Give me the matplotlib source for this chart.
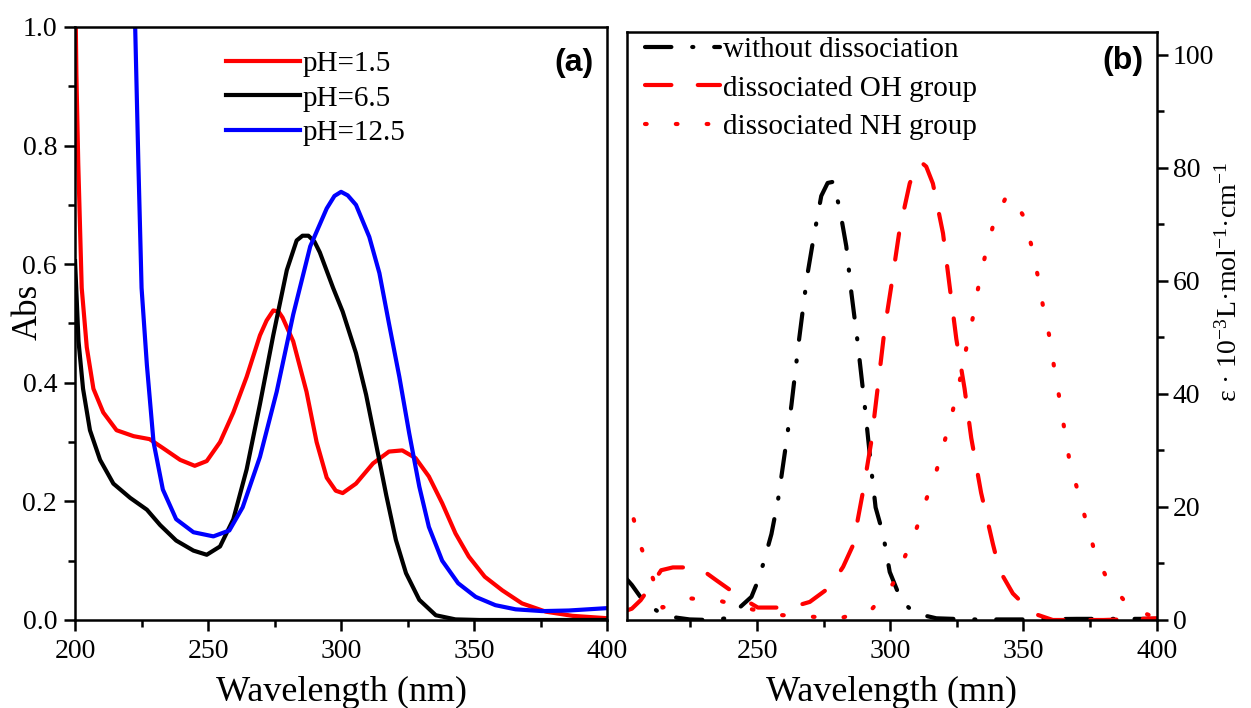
import matplotlib
matplotlib.use('Agg')
import matplotlib.pyplot as plt
from matplotlib.ticker import MultipleLocator

plt.rcParams['font.family'] = ['Liberation Serif', 'DejaVu Serif']
plt.rcParams['mathtext.fontset'] = 'custom'
plt.rcParams['mathtext.rm'] = 'Liberation Serif'
plt.rcParams['mathtext.default'] = 'regular'
plt.rcParams['lines.scale_dashes'] = False

# panel (a): absorbance spectra
wl_ph15 = [200.0, 200.5, 201.2, 202.5, 204.4, 206.9, 210.6, 215.6, 222, 228, 233, 239.5, 245,
           249.5, 254.5, 259.5, 264.5, 269.5, 272, 274.5, 276.5, 278, 282, 287, 290.8, 294.6,
           298, 300.6, 305.6, 312, 318, 323, 328, 333, 338, 343, 348, 354, 360.6, 368, 377,
           387, 400]
abs_ph15 = [1.10, 0.92, 0.77, 0.56, 0.46, 0.39, 0.35, 0.32, 0.31, 0.305, 0.29, 0.27, 0.26,
            0.268, 0.30, 0.35, 0.41, 0.48, 0.505, 0.522, 0.52, 0.51, 0.47, 0.385, 0.30, 0.24,
            0.218, 0.214, 0.23, 0.264, 0.284, 0.286, 0.273, 0.242, 0.197, 0.146, 0.107, 0.073,
            0.05, 0.028, 0.014, 0.007, 0.003]

wl_ph65 = [200, 201.3, 203, 205.6, 209.4, 214.4, 220.7, 227, 232, 238, 244.5, 249.5, 254.5,
           259.5, 264.5, 269.5, 274.5, 279.6, 283.3, 285.5, 287.7, 290, 292, 297, 300.6, 305.6,
           309.4, 313, 317, 320.6, 324.4, 329.4, 335.6, 343, 352, 400]
abs_ph65 = [0.605, 0.47, 0.39, 0.32, 0.27, 0.23, 0.206, 0.186, 0.16, 0.134, 0.117, 0.11,
            0.124, 0.17, 0.254, 0.364, 0.48, 0.59, 0.64, 0.648, 0.648, 0.638, 0.62, 0.56, 0.52,
            0.45, 0.38, 0.30, 0.21, 0.135, 0.079, 0.034, 0.008, 0.001, 0.0, 0.0]

wl_ph125 = [222.0, 222.6, 223.8, 225, 227, 229.5, 233, 238, 244.5, 252, 258, 263, 269.5,
            275.8, 282, 288.4, 294.6, 297.5, 300, 302.5, 305.6, 310.6, 314.4, 318, 321.9, 325.6,
            329.4, 333, 338, 344, 350.6, 358, 365.6, 375.6, 385.6, 400]
abs_ph125 = [1.10, 1.0, 0.77, 0.56, 0.43, 0.30, 0.22, 0.17, 0.148, 0.141, 0.151, 0.19,
             0.275, 0.385, 0.515, 0.63, 0.694, 0.715, 0.722, 0.716, 0.70, 0.646, 0.585, 0.50,
             0.41, 0.315, 0.225, 0.157, 0.10, 0.062, 0.039, 0.025, 0.018, 0.015, 0.016, 0.02]

# panel (b): molar absorptivity
wl_neutral = [200, 203, 206.5, 210.4, 214.6, 220, 224.7, 232.3, 238.5, 243, 247.9, 250.4,
              252.3, 255.4, 257.9, 260.4, 262.9, 265.8, 268.8, 271.3, 274.1, 276.5, 278.5, 281,
              283.5, 285.4, 287.6, 290.4, 292.9, 294.5, 297.3, 299.8, 304.1, 309.1, 317.3,
              330, 350, 370, 400]
eps_neutral = [7.8, 6.2, 3.9, 2.3, 0.9, 0.4, 0.1, 0.0, 0.3, 2.0, 4.1, 7.0, 9.9, 15.2, 21.3,
               29.5, 38.0, 49.7, 60.8, 67.8, 75.0, 77.3, 77.5, 72.8, 66.1, 57.9, 49.7, 38.0,
               26.6, 19.9, 15.2, 8.5, 3.5, 1.2, 0.3, 0.1, 0.1, 0.2, 0.2]

wl_oh = [200, 203, 206.3, 210.8, 214, 218.4, 227.4, 231, 234.8, 243.5, 250.3, 259.5, 264,
         269.8, 277.3, 282.3, 286, 289.8, 292.9, 295.4, 297.9, 300.4, 303.5, 307.3, 309.5,
         311.5, 313.5, 316, 319.8, 322.3, 324.8, 327.9, 330.4, 334.1, 338.5, 341, 346, 353.5,
         361, 380, 400]
eps_oh = [1.5, 2.0, 3.5, 6.5, 8.8, 9.3, 9.3, 8.3, 7.0, 4.1, 2.2, 2.2, 2.4, 3.2, 5.8, 9.4,
          13.2, 22.8, 31.6, 41.5, 51.5, 59.1, 69.0, 77.2, 80.0, 81.0, 80.2, 77.2, 68.4, 59.0,
          49.7, 40.9, 32.2, 22.5, 13.5, 8.8, 4.7, 1.2, 0.0, 0.0, 0.3]

wl_nh = [200, 203.6, 206.7, 210.8, 214.5, 225.4, 236, 247, 257.7, 269.7, 281, 292.9, 301,
         305.4, 309.8, 313.5, 317.3, 320.4, 323.5, 326, 328.5, 331, 332.9, 335.4, 338.5,
         343.5, 345.4, 349.8, 352.9, 355.4, 357.3, 359.8, 361.6, 363.5, 365.4, 367.3, 370.4,
         373.5, 376.6, 381.6, 389.8, 398.5, 400]
eps_nh = [23.0, 18.0, 12.6, 7.5, 2.2, 3.8, 3.4, 2.0, 0.9, 0.6, 0.3, 1.8, 6.4, 11.1, 16.1,
          21.3, 26.3, 31.6, 37.1, 42.1, 48.0, 53.5, 58.5, 64.0, 69.6, 74.9, 75.1, 71.6,
          66.4, 60.8, 55.6, 50.0, 44.4, 39.2, 33.6, 28.1, 22.8, 17.5, 12.3, 7.0, 2.3, 0.6, 0.5]

fig = plt.figure(figsize=(12.51, 7.08), dpi=100)
ax1 = fig.add_axes([0.0600, 0.1243, 0.4253, 0.8376])
ax2 = fig.add_axes([0.5008, 0.1243, 0.4238, 0.8305])

lw = 3.0
ax1.plot(wl_ph15, abs_ph15, color='#ff0000', lw=lw, label='pH=1.5')
ax1.plot(wl_ph65, abs_ph65, color='black', lw=lw, label='pH=6.5')
ax1.plot(wl_ph125, abs_ph125, color='#0000ff', lw=lw, label='pH=12.5')
ax1.set_xlim(200, 400)
ax1.set_ylim(0, 1.0)
ax1.xaxis.set_major_locator(MultipleLocator(50))
ax1.xaxis.set_minor_locator(MultipleLocator(25))
ax1.yaxis.set_major_locator(MultipleLocator(0.2))
ax1.yaxis.set_minor_locator(MultipleLocator(0.1))
ax1.yaxis.set_major_formatter(plt.FormatStrFormatter('%.1f'))
ax1.set_xlabel('Wavelength (nm)', fontsize=26, labelpad=8)
ax1.set_ylabel('Abs', fontsize=25)
ax1.yaxis.set_label_coords(-0.057, 0.52)
ax1.tick_params(which='both', direction='out', top=False, right=False, labelsize=20, width=1.8)
ax1.tick_params(which='major', length=8)
ax1.tick_params(which='minor', length=5)
ax1.tick_params(axis='x', pad=6)
ax1.tick_params(axis='y', pad=5)
leg1 = ax1.legend(loc='upper left', bbox_to_anchor=(0.262, 0.98), frameon=False, fontsize=21,
                  handlelength=2.55, handletextpad=0.08, labelspacing=0.28, borderaxespad=0)
ax1.text(0.975, 0.94, '(a)', transform=ax1.transAxes, ha='right', va='center',
         fontsize=23, fontweight='bold', family='Liberation Sans')

ax2.plot(wl_neutral, eps_neutral, color='black', lw=lw, dashes=(19, 15, 0.8, 15),
         dash_capstyle='round', label='without dissociation')
ax2.plot(wl_oh, eps_oh, color='#ff0000', lw=lw, dashes=(19, 19),
         dash_capstyle='round', label='dissociated OH group')
ax2.plot(wl_nh, eps_nh, color='#ff0000', lw=lw, dashes=(1.2, 21),
         dash_capstyle='round', label='dissociated NH group')
ax2.set_xlim(201, 400)
ax2.set_ylim(0, 104)
ax2.xaxis.set_major_locator(MultipleLocator(50))
ax2.xaxis.set_minor_locator(MultipleLocator(25))
ax2.yaxis.set_major_locator(MultipleLocator(20))
ax2.yaxis.set_minor_locator(MultipleLocator(10))
ax2.yaxis.tick_right()
ax2.yaxis.set_label_position('right')
ax2.set_xticks([250, 300, 350, 400])
ax2.set_xlabel('Wavelength (mn)', fontsize=26, labelpad=8)
ax2.set_ylabel(r'ε · 10$^{-3}$L·mol$^{-1}$·cm$^{-1}$', fontsize=20, rotation=90)
ax2.yaxis.set_label_coords(1.113, 0.575)
ax2.tick_params(which='both', direction='out', top=False, left=False, labelsize=20, width=1.8)
ax2.tick_params(which='major', length=8)
ax2.tick_params(which='minor', length=5)
ax2.tick_params(axis='x', pad=6)
leg2 = ax2.legend(loc='upper left', bbox_to_anchor=(0.012, 1.012), frameon=False, fontsize=21,
                  handlelength=2.6, handletextpad=0.1, labelspacing=0.42, borderaxespad=0)
ax2.text(0.975, 0.95, '(b)', transform=ax2.transAxes, ha='right', va='center',
         fontsize=23, fontweight='bold', family='Liberation Sans')

for ax in (ax1, ax2):
    for sp in ax.spines.values():
        sp.set_linewidth(1.8)

fig.savefig('out.png', dpi=100)
